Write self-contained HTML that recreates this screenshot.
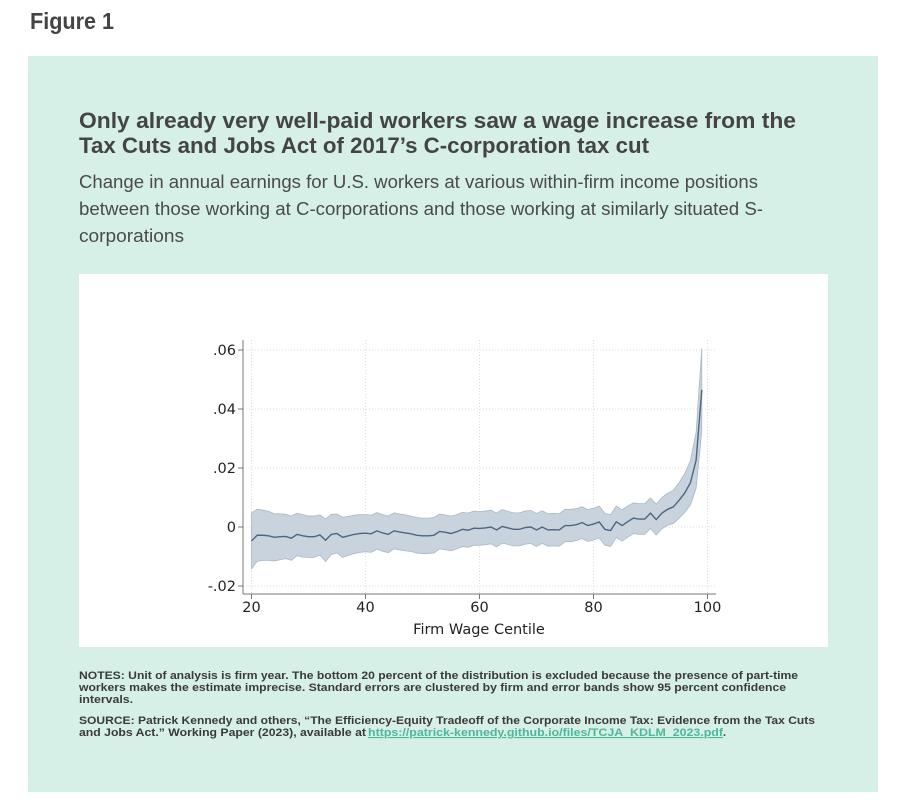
<!DOCTYPE html>
<html><head><meta charset="utf-8"><style>
html,body{margin:0;padding:0;background:#fff;width:918px;height:807px;overflow:hidden}
svg{display:block}
text{font-family:"Liberation Sans",sans-serif}
text.ax{font-family:"DejaVu Sans",sans-serif}
</style></head><body>
<svg id="root" width="918" height="807" viewBox="0 0 918 807">
<text x="30" y="29" font-size="23" font-weight="bold" fill="#444" textLength="84" lengthAdjust="spacingAndGlyphs">Figure 1</text>
<rect x="28" y="56" width="850" height="736" fill="#d6f0e7"/>
<g font-size="22" font-weight="bold" fill="#444">
<text x="79" y="128" textLength="717" lengthAdjust="spacingAndGlyphs">Only already very well-paid workers saw a wage increase from the</text>
<text x="79" y="153" textLength="570" lengthAdjust="spacingAndGlyphs">Tax Cuts and Jobs Act of 2017’s C-corporation tax cut</text>
</g>
<g font-size="18" fill="#4a4a4a">
<text x="79" y="188" textLength="679" lengthAdjust="spacingAndGlyphs">Change in annual earnings for U.S. workers at various within-firm income positions</text>
<text x="79" y="215" textLength="684" lengthAdjust="spacingAndGlyphs">between those working at C-corporations and those working at similarly situated S-</text>
<text x="79" y="242" textLength="105" lengthAdjust="spacingAndGlyphs">corporations</text>
</g>
<rect x="79" y="274" width="749" height="373" fill="#fff"/>
<g id="plot"></g>
<g font-size="11" font-weight="bold" fill="#3a3a3a">
<text x="79" y="679" textLength="719" lengthAdjust="spacingAndGlyphs">NOTES: Unit of analysis is firm year. The bottom 20 percent of the distribution is excluded because the presence of part-time</text>
<text x="79" y="691" textLength="707" lengthAdjust="spacingAndGlyphs">workers makes the estimate imprecise. Standard errors are clustered by firm and error bands show 95 percent confidence</text>
<text x="79" y="703" textLength="54" lengthAdjust="spacingAndGlyphs">intervals.</text>
</g>
<g font-size="11" font-weight="bold" fill="#3a3a3a">
<text x="79" y="724" textLength="736" lengthAdjust="spacingAndGlyphs">SOURCE: Patrick Kennedy and others, “The Efficiency-Equity Tradeoff of the Corporate Income Tax: Evidence from the Tax Cuts</text>
<text x="79" y="736" textLength="287" lengthAdjust="spacingAndGlyphs">and Jobs Act.” Working Paper (2023), available at</text>
<text x="368" y="736" textLength="355" lengthAdjust="spacingAndGlyphs" fill="#4cb89a" text-decoration="underline">https://patrick-kennedy.github.io/files/TCJA_KDLM_2023.pdf</text>
<text x="723" y="736">.</text>
</g>
</svg>
<script>
const centiles = [];
for (let c = 20; c <= 99; c++) centiles.push(c);
const estimates = [-0.0047,-0.0028,-0.0028,-0.0030,-0.0035,-0.0033,-0.0032,-0.0038,-0.0025,-0.0030,
-0.0033,-0.0033,-0.0027,-0.0045,-0.0025,-0.0022,-0.0035,-0.0030,-0.0025,-0.0022,
-0.0021,-0.0023,-0.0013,-0.0020,-0.0025,-0.0013,-0.0017,-0.0020,-0.0023,-0.0028,
-0.0030,-0.0030,-0.0028,-0.0015,-0.0018,-0.0022,-0.0016,-0.0008,-0.0011,-0.0004,
-0.0005,-0.0003,0.0000,-0.0010,0.0002,-0.0003,-0.0008,-0.0008,-0.0002,0.0000,
-0.0010,0.0000,-0.0010,-0.0009,-0.0010,0.0005,0.0005,0.0008,0.0015,0.0005,
0.0010,0.0017,-0.0008,-0.0012,0.0018,0.0005,0.0018,0.0030,0.0027,0.0027,
0.0047,0.0025,0.0047,0.0060,0.0068,0.0090,0.0115,0.0150,0.0226,0.0465];
const ciHalf = [0.0095,0.0088,0.0085,0.0083,0.0080,0.0078,0.0075,0.0075,0.0072,0.0072,
0.0070,0.0070,0.0068,0.0072,0.0068,0.0066,0.0068,0.0066,0.0065,0.0064,
0.0063,0.0063,0.0062,0.0062,0.0062,0.0061,0.0061,0.0061,0.0060,0.0060,
0.0060,0.0060,0.0060,0.0059,0.0059,0.0059,0.0058,0.0058,0.0058,0.0058,
0.0057,0.0057,0.0057,0.0057,0.0057,0.0056,0.0056,0.0056,0.0056,0.0056,
0.0056,0.0055,0.0055,0.0055,0.0055,0.0055,0.0055,0.0054,0.0054,0.0054,
0.0054,0.0054,0.0054,0.0054,0.0053,0.0053,0.0053,0.0052,0.0052,0.0052,
0.0052,0.0052,0.0053,0.0054,0.0056,0.0060,0.0066,0.0075,0.0095,0.0140];
const xTicks = [20,40,60,80,100];
const yTicks = [-0.02,0,0.02,0.04,0.06];
const yTickLabels = ["-.02","0",".02",".04",".06"];

const NS = "http://www.w3.org/2000/svg";
const g = document.getElementById("plot");
function xs(c){ return 251.5 + (c - 20) * 5.7; }
function ys(v){ return 527 - v * 2950; }
function mk(tag, attrs){ const e = document.createElementNS(NS, tag); for (const k in attrs) e.setAttribute(k, attrs[k]); g.appendChild(e); return e; }

xTicks.forEach(t => {
  const l = mk("line", {x1: xs(t), x2: xs(t), y1: 340, y2: 594, stroke: "#ddd", "stroke-width": 1, "stroke-dasharray": "1,2"});
  
  
});
yTicks.forEach(t => {
  const l = mk("line", {x1: 243, x2: 716, y1: ys(t), y2: ys(t), stroke: "#ddd", "stroke-width": 1, "stroke-dasharray": "1,2"});
  
  
});
let d = "";
centiles.forEach((c, i) => { d += (i ? "L" : "M") + xs(c) + "," + ys(estimates[i] + ciHalf[i]); });
for (let i = centiles.length - 1; i >= 0; i--) d += "L" + xs(centiles[i]) + "," + ys(estimates[i] - ciHalf[i]);
const band = mk("path", {d: d + "Z", fill: "#c9d3dd", stroke: "#a9b7c6", "stroke-width": 0.8});


let ld = "";
centiles.forEach((c, i) => { ld += (i ? "L" : "M") + xs(c) + "," + ys(estimates[i]); });
const line = mk("path", {d: ld, fill: "none", stroke: "#4e6580", "stroke-width": 1.4});


const ya = mk("line", {x1: 243, x2: 243, y1: 340, y2: 594, stroke: "#777", "stroke-width": 1});


const xa = mk("line", {x1: 243, x2: 716, y1: 594, y2: 594, stroke: "#777", "stroke-width": 1});


xTicks.forEach(t => {
  mk("line", {x1: xs(t), x2: xs(t), y1: 594, y2: 599, stroke: "#777"});
  const tx = mk("text", {x: xs(t), y: 612, "font-size": 14.5, "text-anchor": "middle", fill: "#222", class: "ax"});
  tx.textContent = t;
  
  
});
yTicks.forEach((t, i) => {
  mk("line", {x1: 238, x2: 243, y1: ys(t), y2: ys(t), stroke: "#777"});
  const tx = mk("text", {x: 236, y: ys(t) + 5, "font-size": 14.5, "text-anchor": "end", fill: "#222", class: "ax"});
  tx.textContent = yTickLabels[i];
  
  
});
const xt = mk("text", {x: 479, y: 634, "font-size": 14.5, "text-anchor": "middle", fill: "#222", class: "ax"});
xt.textContent = "Firm Wage Centile";


</script>
</body></html>
